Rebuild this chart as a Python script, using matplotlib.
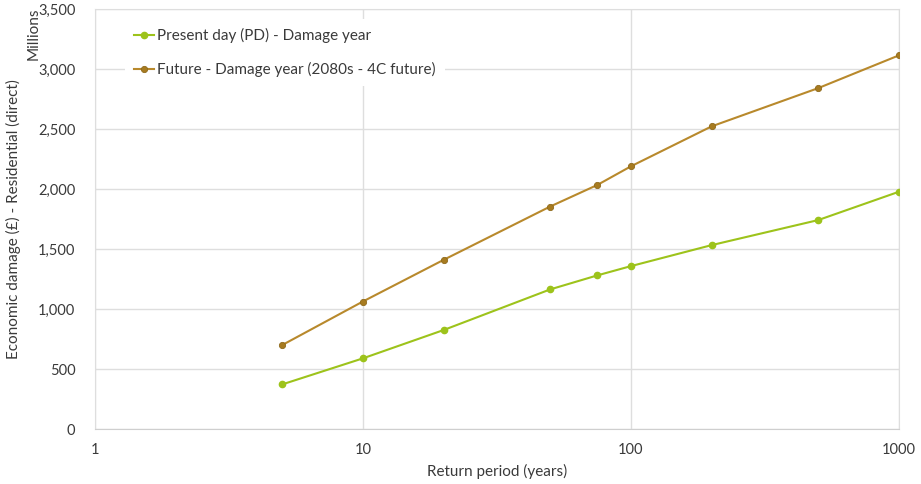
import matplotlib.pyplot as plt
from matplotlib.ticker import FixedLocator, FuncFormatter, NullLocator

plt.rcParams['font.family'] = ['Lato', 'DejaVu Sans']

# Return periods (years) and residential damage in £ millions
return_period = [5, 10, 20, 50, 75, 100, 200, 500, 1000]
present_day = [372, 589, 825, 1164, 1281, 1358, 1533, 1742, 1978]
future_4c = [700, 1063, 1410, 1855, 2035, 2190, 2523, 2842, 3115]

series_labels = ['Present day (PD) - Damage year',
                 'Future - Damage year (2080s - 4C future)']

green = '#9dc31b'
brown = '#b8892c'
text_col = '#3a3a3a'
grid_col = '#dedede'

fig = plt.figure(figsize=(9.21, 4.84), dpi=100)
ax = fig.add_axes([0.103, 0.1136, 0.873, 0.8674])

ax.plot(return_period, present_day, color=green, lw=1.5, marker='o', ms=4.5,
        mfc=green, mec=green, label=series_labels[0], zorder=3)
ax.plot(return_period, future_4c, color=brown, lw=1.5, marker='o', ms=4.5,
        mfc='#a77b20', mec='#8f6a1c', mew=0.6, label=series_labels[1], zorder=3)

ax.set_xscale('log')
ax.set_xlim(1, 1000)
ax.set_ylim(0, 3500)
ax.xaxis.set_major_locator(FixedLocator([1, 10, 100, 1000]))
ax.xaxis.set_minor_locator(NullLocator())
ax.xaxis.set_major_formatter(FuncFormatter(lambda v, p: f'{int(v)}'))
ax.set_yticks(range(0, 3501, 500))
ax.yaxis.set_major_formatter(FuncFormatter(lambda v, p: f'{int(v):,}'))

ax.grid(True, color=grid_col, lw=1)
ax.set_axisbelow(True)
for s in ax.spines.values():
    s.set_color(grid_col)
ax.spines['bottom'].set_color('#cfcfcf')
ax.tick_params(length=0, labelsize=10.5, colors=text_col, pad=10)
ax.tick_params(axis='y', pad=14)

ax.set_xlabel('Return period (years)', fontsize=11, color=text_col, labelpad=5)
ax.set_ylabel('Economic damage (£) - Residential (direct)', fontsize=11,
              color=text_col, labelpad=12)
fig.text(0.036, 0.93, 'Millions', rotation=90, fontsize=11, color=text_col,
         ha='center', va='center')

leg = ax.legend(loc='upper left', bbox_to_anchor=(0.028, 0.995), frameon=True,
                fontsize=11, handlelength=1.3, handletextpad=0.2,
                labelspacing=1.25, borderpad=0.6, labelcolor=text_col)
leg.get_frame().set_facecolor('white')
leg.get_frame().set_edgecolor('none')
leg.get_frame().set_alpha(1)

fig.savefig('out.png', dpi=100)
